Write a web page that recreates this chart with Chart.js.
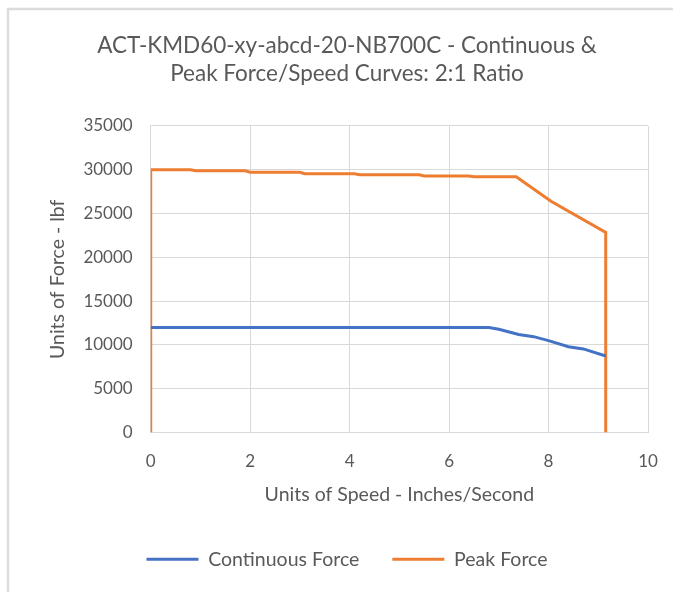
<!DOCTYPE html>
<html>
<head>
<meta charset="utf-8">
<script src="https://cdn.jsdelivr.net/npm/chart.js@4.4.1/dist/chart.umd.min.js"></script>
<style>
html,body{margin:0;padding:0;background:#fff;}
#wrap{width:673px;height:592px;position:relative;}
</style>
</head>
<body>
<div id="wrap"><canvas id="c" width="673" height="592"></canvas></div>
<script>
const titleLines = ["ACT-KMD60-xy-abcd-20-NB700C - Continuous &", "Peak Force/Speed Curves: 2:1 Ratio"];
const xAxisTitle = "Units of Speed - Inches/Second";
const yAxisTitle = "Units of Force - lbf";
const seriesNames = ["Continuous Force", "Peak Force"];

const contSpeed = [0, 6.8, 7.0, 7.4, 7.7, 8.0, 8.4, 8.7, 9.15];
const contForce = [12000, 12000, 11800, 11200, 10950, 10500, 9800, 9550, 8750];

const peakSpeed = [0, 0, 0.8, 0.9, 1.9, 2.0, 3.0, 3.1, 4.1, 4.2, 5.4, 5.5, 6.4, 6.5, 7.35, 8.05, 9.15, 9.15];
const peakForce = [0, 30000, 30000, 29880, 29880, 29720, 29720, 29550, 29550, 29430, 29430, 29300, 29300, 29200, 29200, 26400, 22850, 0];

const xMin = 0, xMax = 10, xStep = 2;
const yMin = 0, yMax = 35000, yStep = 5000;

const toPts = (xs, ys) => xs.map((x, i) => ({x: x, y: ys[i]}));

const FONT = "Lato, 'Open Sans', sans-serif";
const GREY = "#595959";
const GRID = "#d9d9d9";

const frame = {
  id: 'frame',
  beforeDraw(chart) {
    const ctx = chart.ctx;
    ctx.save();
    ctx.fillStyle = '#ffffff';
    ctx.fillRect(0, 0, chart.width, chart.height);
    ctx.strokeStyle = '#dcdcdc';
    ctx.lineWidth = 2.5;
    ctx.beginPath();
    ctx.moveTo(8, chart.height);
    ctx.lineTo(8, 9);
    ctx.lineTo(chart.width, 9);
    ctx.stroke();
    ctx.restore();
  }
};

new Chart(document.getElementById('c'), {
  type: 'scatter',
  data: {
    datasets: [
      {
        label: seriesNames[0],
        data: toPts(contSpeed, contForce),
        showLine: true,
        borderColor: '#4472C4',
        backgroundColor: '#4472C4',
        borderWidth: 3,
        pointRadius: 0,
        tension: 0
      },
      {
        label: seriesNames[1],
        data: toPts(peakSpeed, peakForce),
        showLine: true,
        borderColor: '#ED7D31',
        backgroundColor: '#ED7D31',
        borderWidth: 3,
        pointRadius: 0,
        tension: 0
      }
    ]
  },
  options: {
    responsive: false,
    animation: false,
    layout: {padding: {top: 10, left: 46, right: 25, bottom: 13}},
    plugins: {
      title: {
        display: true,
        text: titleLines,
        color: GREY,
        font: {family: FONT, size: 22.5, weight: 'normal', lineHeight: 1.244},
        padding: {top: 22, bottom: 38}
      },
      legend: {
        position: 'bottom',
        labels: {
          color: GREY,
          font: {family: FONT, size: 19.5},
          usePointStyle: true,
          pointStyle: 'line',
          pointStyleWidth: 52,
          padding: 33
        }
      },
      tooltip: {enabled: false}
    },
    scales: {
      x: {
        type: 'linear',
        min: xMin, max: xMax,
        ticks: {stepSize: xStep, color: GREY, font: {family: FONT, size: 17, lineHeight: 48 / 17}, padding: 5, callback: v => String(v)},
        grid: {color: GRID, drawTicks: false},
        border: {color: GRID},
        title: {display: true, text: xAxisTitle, color: GREY, font: {family: FONT, size: 19.5}, padding: {top: -8, bottom: 10.5}}
      },
      y: {
        type: 'linear',
        min: yMin, max: yMax,
        ticks: {stepSize: yStep, color: GREY, font: {family: FONT, size: 17}, padding: 18, callback: v => String(v)},
        grid: {color: GRID, drawTicks: false},
        border: {color: GRID},
        title: {display: true, text: yAxisTitle, color: GREY, font: {family: FONT, size: 19.5}, padding: {top: 0, bottom: -4}}
      }
    }
  },
  plugins: [frame]
});
</script>
</body>
</html>
